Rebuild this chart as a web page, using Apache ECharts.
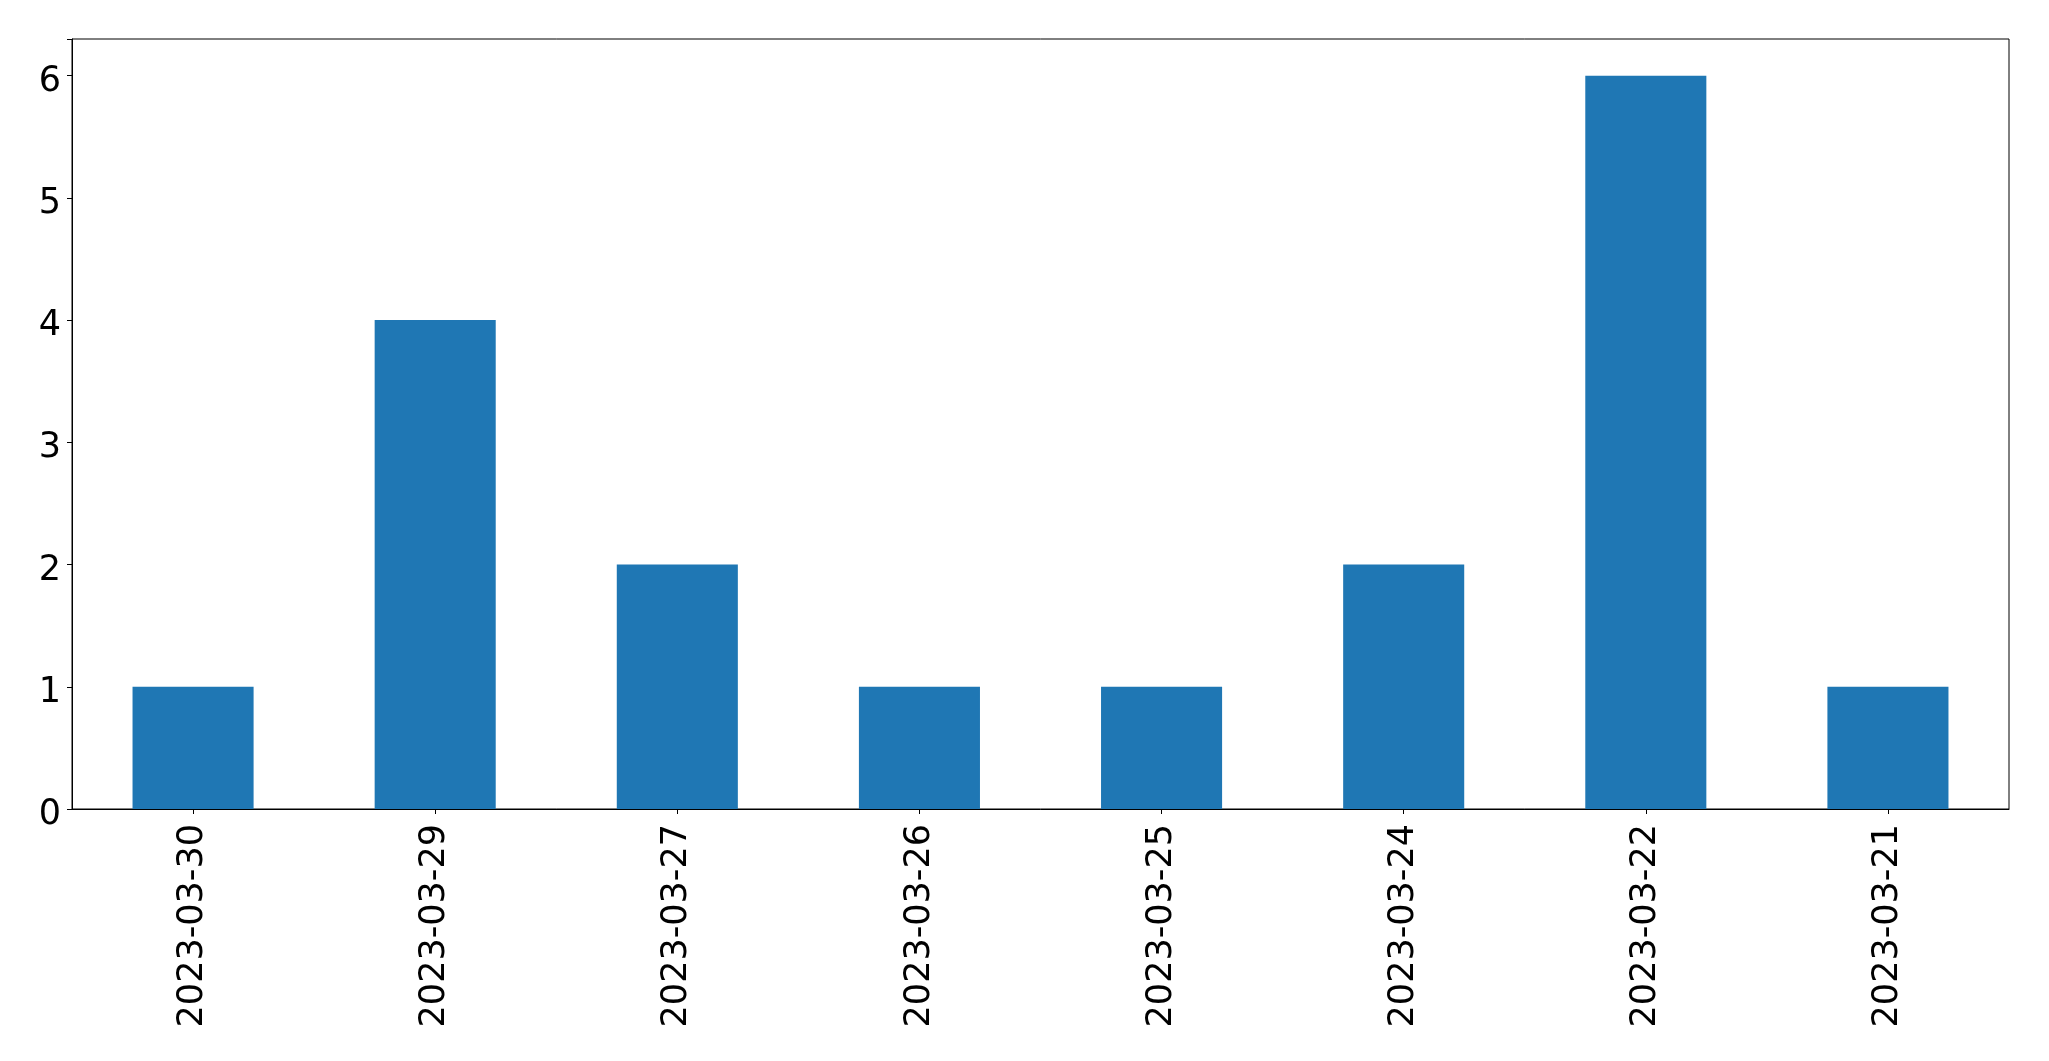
<!DOCTYPE html>
<html>
<head>
<meta charset="utf-8">
<script src="https://cdn.jsdelivr.net/npm/echarts@6/dist/echarts.min.js"></script>
<style>
html,body{margin:0;padding:0;background:#fff;}
#chart{width:2049px;height:1061px;}
</style>
</head>
<body>
<div id="chart"></div>
<script>
const categories = ["2023-03-30","2023-03-29","2023-03-27","2023-03-26","2023-03-25","2023-03-24","2023-03-22","2023-03-21"];
const counts = [1,4,2,1,1,2,6,1];
const yTicks = [0,1,2,3,4,5,6];

const chart = echarts.init(document.getElementById('chart'), null, {renderer:'canvas'});
const font = 'DejaVu Sans';
chart.setOption({
  animation:false,
  backgroundColor:'#ffffff',
  grid:{left:72,right:40,top:39,bottom:252,show:true,borderColor:'#000',borderWidth:1,containLabel:false},
  xAxis:{
    type:'category',
    data:categories,
    boundaryGap:true,
    axisLine:{show:true,lineStyle:{color:'#000',width:1}},
    axisTick:{show:true,alignWithLabel:true,length:5,lineStyle:{color:'#000',width:1}},
    axisLabel:{rotate:90,margin:15,color:'#000',fontFamily:font,fontSize:35,interval:0},
    splitLine:{show:false}
  },
  yAxis:{
    type:'value',
    min:0,max:6.3,interval:1,
    axisLine:{show:true,lineStyle:{color:'#000',width:1}},
    axisTick:{show:true,length:5,lineStyle:{color:'#000',width:1}},
    axisLabel:{color:'#000',fontFamily:font,fontSize:35,margin:11,
      formatter:function(v){return yTicks.indexOf(v)>=0 ? '{a|' + v + '}' : '';},
      rich:{a:{fontFamily:font,fontSize:35,color:'#000',padding:[12,0,0,0]}}},
    splitLine:{show:false}
  },
  series:[{
    type:'bar',
    data:counts,
    barWidth:'50%',
    itemStyle:{color:'#1f77b4'}
  }]
});
</script>
</body>
</html>
